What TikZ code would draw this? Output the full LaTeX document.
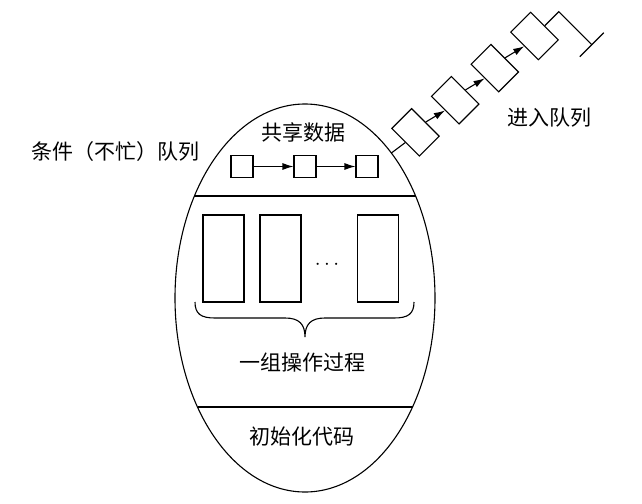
\documentclass[tikz,border=0pt]{standalone}
\usepackage{fontspec}
\newfontfamily\cjk{Noto Sans CJK SC}
\usetikzlibrary{arrows.meta,calc,shapes.geometric}
\begin{document}
\begin{tikzpicture}[x=1pt,y=-1pt,line width=1.1pt,
  lbl/.style={font=\cjk\fontsize{21}{24}\selectfont,inner sep=0pt},
  sq/.style={draw,minimum width=22pt,minimum height=22pt,inner sep=0pt},
  proc/.style={draw,minimum width=41pt,minimum height=87pt,inner sep=0pt},
  qbox/.style={draw,minimum width=28pt,minimum height=39pt,inner sep=0pt,rotate=45},
  arr/.style={-{Latex[length=11pt,width=7pt]}}]
\useasboundingbox (0,0) rectangle (642,503);
% monitor ellipse
\node[draw,ellipse,minimum width=260pt,minimum height=388pt,inner sep=0pt] (mon) at (305,298) {};
\draw (194.4,196) -- (415.6,196);
\draw (197.5,407) -- (412.5,407);
% shared data
\node[lbl] (shared) at (303,132) {共享数据};
\node[sq] (s1) at (242,166.5) {};
\node[sq] (s2) at (305,166.5) {};
\node[sq] (s3) at (367,166.5) {};
\draw[arr] (s1.east) -- (s2.west);
\draw[arr] (s2.east) -- (s3.west);
% procedures
\node[proc] (p1) at (223.5,258.5) {};
\node[proc] (p2) at (280.5,258.5) {};
\node[proc] (p3) at (378,258.5) {};
\node[inner sep=0pt] (dots) at (327,265) {\fontsize{22}{24}\selectfont$\cdots$};
\draw (195,302) .. controls (195,314) and (201,318) .. (215,318) -- (285,318)
  .. controls (299,318) and (305,324) .. (305,337)
  .. controls (305,324) and (311,318) .. (325,318) -- (394,318)
  .. controls (408,318) and (414,314) .. (414,302);
\node[lbl] (ops) at (302,363) {一组操作过程};
\node[lbl] (init) at (302,437) {初始化代码};
% condition queue label
\node[lbl] (cond) at (115,152) {条件（不忙）队列};
% entry queue
\node[qbox] (d1) at (415.5,132.3) {};
\node[qbox] (d2) at (455.2,100.2) {};
\node[qbox] (d3) at (494.8,68.1) {};
\node[qbox] (d4) at (534.5,36) {};
\coordinate (e0) at (391.4,153);
\draw (e0) -- (d1.west);
\draw[arr] (d1.east) -- (d2.west);
\draw[arr] (d2.east) -- (d3.west);
\draw[arr] (d3.east) -- (d4.west);
\coordinate (t1) at ($(d4.east)+(14,-14)$);
\coordinate (t2) at ($(t1)+(33,33)$);
\coordinate (b1) at ($(t2)+(-12,12)$);
\coordinate (b2) at ($(t2)+(12,-12)$);
\draw (d4.east) -- (t1) -- (t2);
\draw (b1) -- (b2);
\node[lbl] (entry) at (549,118) {进入队列};
\end{tikzpicture}
\end{document}
